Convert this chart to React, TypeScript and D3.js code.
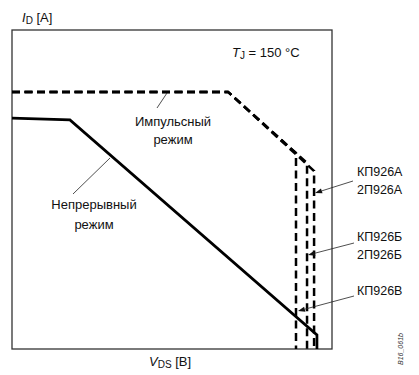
import React from "react";
import * as d3 from "d3";

// Safe operating area, normalized units (no tick values on the axes)
const contVds = [0, 18.1, 95.3, 95.3];
const contId = [72.4, 71.8, 4.4, 0];

const pulseFlatVds = [0, 67.5];
const pulseFlatId = [80.6, 80.6];

// Pulse-mode limit per device: breakdown voltage and current at the knee
const devices = ["КП926В", "КП926Б", "КП926А"];
const breakdownVds = [88.75, 92.2, 94.4];
const kneeId = [61.4, 58.3, 55.8];

const W = 419;
const H = 375;
const FONT = "'Liberation Sans', Arial, sans-serif";

export default function App() {
  const x = d3.scaleLinear().domain([0, 100]).range([12, 332]);
  const y = d3.scaleLinear().domain([0, 100]).range([349, 30]);

  const line = d3
    .line<[number, number]>()
    .x((d) => x(d[0]))
    .y((d) => y(d[1]));

  const contPts = contVds.map((v, i) => [v, contId[i]] as [number, number]);
  const pulsePaths = devices.map((_, i) => {
    const pts: [number, number][] = pulseFlatVds.map((v, j) => [v, pulseFlatId[j]]);
    pts.push([breakdownVds[i], kneeId[i]]);
    pts.push([breakdownVds[i], 0]);
    return pts;
  });

  const arrow = (x1: number, y1: number, x2: number, y2: number, key: string) => {
    const ang = Math.atan2(y2 - y1, x2 - x1);
    const len = 7;
    const half = 2.6;
    const bx = x2 - len * Math.cos(ang);
    const by = y2 - len * Math.sin(ang);
    const px = -Math.sin(ang) * half;
    const py = Math.cos(ang) * half;
    return (
      <g key={key}>
        <line x1={x1} y1={y1} x2={bx} y2={by} stroke="#222" strokeWidth={0.8} />
        <path
          d={`M${x2},${y2}L${bx + px},${by + py}L${bx - px},${by - py}Z`}
          fill="#111"
        />
      </g>
    );
  };

  return (
    <svg
      width={W}
      height={H}
      style={{ position: "absolute", left: 0, top: 0, background: "#fff" }}
      fontFamily={FONT}
    >
      <rect x={0} y={0} width={W} height={H} fill="#fff" />
      {/* frame */}
      <rect
        x={x(0)}
        y={y(100)}
        width={x(100) - x(0)}
        height={y(0) - y(100)}
        fill="none"
        stroke="#333"
        strokeWidth={1.3}
      />

      {/* pulse mode limits */}
      {pulsePaths.map((p, i) => (
        <path
          key={devices[i]}
          d={line(p) || ""}
          fill="none"
          stroke="#000"
          strokeWidth={2.5}
          strokeDasharray="8,4.5"
        />
      ))}

      {/* continuous mode limit */}
      <path d={line(contPts) || ""} fill="none" stroke="#000" strokeWidth={2.7} />

      {/* axis titles */}
      <text x={22} y={22} fontSize={13} fill="#111">
        <tspan fontStyle="italic">I</tspan>
        <tspan fontSize={10} dy={2}>D</tspan>
        <tspan dy={-2}> [A]</tspan>
      </text>
      <text x={149} y={366} fontSize={13} fill="#111">
        <tspan fontStyle="italic">V</tspan>
        <tspan fontSize={10} dy={2}>DS</tspan>
        <tspan dy={-2}> [B]</tspan>
      </text>
      <text x={232} y={57} fontSize={13} fill="#111">
        <tspan fontStyle="italic">T</tspan>
        <tspan fontSize={10} dy={2}>J</tspan>
        <tspan dy={-2}> = 150 °C</tspan>
      </text>

      {/* mode labels */}
      <line x1={167} y1={93} x2={157} y2={108} stroke="#222" strokeWidth={0.8} />
      <text x={173} y={126} fontSize={13} textAnchor="middle" fill="#111">Импульсный</text>
      <text x={173} y={144} fontSize={13} textAnchor="middle" fill="#111">режим</text>

      <line x1={110} y1={158} x2={73} y2={194} stroke="#222" strokeWidth={0.8} />
      <text x={94} y={209} fontSize={13} textAnchor="middle" fill="#111">Непрерывный</text>
      <text x={94} y={229} fontSize={13} textAnchor="middle" fill="#111">режим</text>

      {/* device labels */}
      {arrow(353, 181, x(breakdownVds[2]) + 1, 193, "a")}
      {arrow(354, 243, x(breakdownVds[1]) + 1, 255, "b")}
      {arrow(354, 296, x(breakdownVds[0]) + 2, 311, "c")}
      <text x={357} y={176} fontSize={12.5} fill="#111">КП926А</text>
      <text x={357} y={194} fontSize={12.5} fill="#111">2П926А</text>
      <text x={357} y={241} fontSize={12.5} fill="#111">КП926Б</text>
      <text x={357} y={259} fontSize={12.5} fill="#111">2П926Б</text>
      <text x={357} y={295} fontSize={12.5} fill="#111">КП926В</text>

      <text
        transform="translate(403,365) rotate(-90)"
        fontSize={7}
        fontStyle="italic"
        fill="#333"
      >
        B16_061b
      </text>
    </svg>
  );
}
